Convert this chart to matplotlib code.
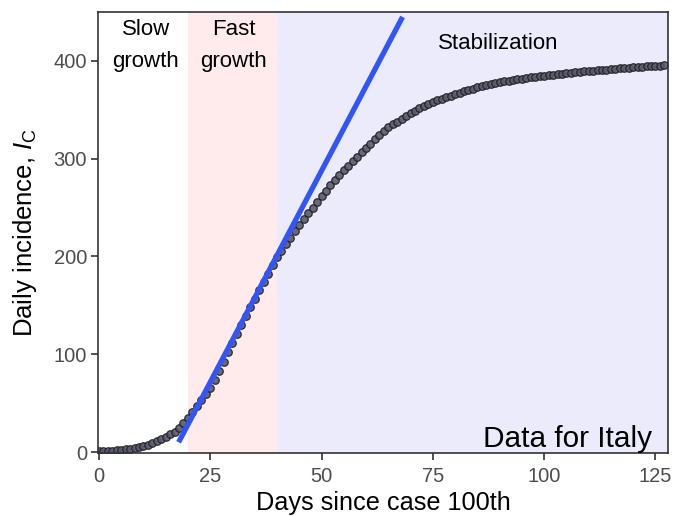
import numpy as np
import matplotlib.pyplot as plt

plt.rcParams['font.family'] = ['Liberation Sans', 'DejaVu Sans']
plt.rcParams['mathtext.fontset'] = 'custom'
plt.rcParams['mathtext.rm'] = 'Liberation Sans'
plt.rcParams['mathtext.it'] = 'Liberation Sans:italic'

# Daily incidence for Italy, day 0..127
days = np.arange(0, 128)
incidence = [
    1, 1, 1.2, 1.5, 2, 2.5, 3, 3.5, 4, 5,
    6, 7.5, 9, 11, 13, 15.5, 18, 21, 25, 30,
    35, 41, 47, 53, 59, 66, 74, 83, 92, 102,
    112, 121, 130, 139, 148, 157, 166, 174, 182, 191,
    199, 206, 213, 219, 226, 232, 238, 244, 250, 256,
    262, 267, 273, 278, 283, 288, 293, 298, 302, 307,
    311, 315, 320, 324, 328, 332, 335, 338, 341, 344,
    347, 349, 352, 354, 356, 358, 360, 361.5, 363, 364.5,
    366, 367.5, 369, 370.5, 371.5, 373, 374, 375, 376, 377,
    378, 379, 379.8, 380.6, 381.3, 382, 382.6, 383.2, 383.8, 384.4,
    385, 385.5, 386, 386.5, 387, 387.5, 388, 388.4, 388.8, 389.2,
    389.6, 390, 390.4, 390.8, 391.2, 391.6, 392, 392.4, 392.8, 393.2,
    393.5, 393.8, 394.1, 394.4, 394.7, 395, 395.3, 395.6,
]

# linear fit of the fast growth phase
fit_x = [17.9, 68.2]
fit_y = [10, 445]

phases = [(0, 20, 'white'), (20, 40, '#FFEBEB'), (40, 128, '#EBEBFC')]

fig = plt.figure(figsize=(6.74, 5.16), dpi=100)
ax = fig.add_axes([0.1454, 0.122, 0.991 - 0.1454, 0.9767 - 0.122])

for x0, x1, c in phases:
    ax.axvspan(x0, x1, color=c, lw=0, zorder=0)

ax.plot(days, incidence, 'o', ms=5.4, mfc='#5A5A68', mec='#1E1E28', mew=0.9,
        alpha=0.9, zorder=2)
ax.plot(fit_x, fit_y, color='#3355F5', lw=3.8, solid_capstyle='butt', zorder=3)

ax.text(10.5, 443, 'Slow\ngrowth', ha='center', va='top', fontsize=16,
        linespacing=1.72)
ax.text(30.3, 443, 'Fast\ngrowth', ha='center', va='top', fontsize=16,
        linespacing=1.72)
ax.text(89.7, 418, 'Stabilization', ha='center', va='center', fontsize=16)
ax.text(124.3, 5, 'Data for Italy', ha='right', va='baseline', fontsize=21.4)

ax.set_xlim(-0.2, 127.8)
ax.set_ylim(-1, 450)
ax.set_xticks([0, 25, 50, 75, 100, 125])
ax.set_yticks([0, 100, 200, 300, 400])
ax.tick_params(labelsize=14.5, labelcolor='#4D4D4D', length=5, width=1.2,
               color='#333333', pad=3)
ax.tick_params(axis='x', pad=5)
for s in ax.spines.values():
    s.set_color('#333333')
    s.set_linewidth(1.2)

ax.set_xlabel('Days since case 100th', fontsize=18.2, va='top')
ax.xaxis.set_label_coords(0.5, -0.085)
ax.set_ylabel(r'Daily incidence, $\mathit{I}_{\mathrm{C}}$', fontsize=18.5)
ax.yaxis.set_label_coords(-0.103, 0.5)

fig.savefig('out.png', dpi=100)
